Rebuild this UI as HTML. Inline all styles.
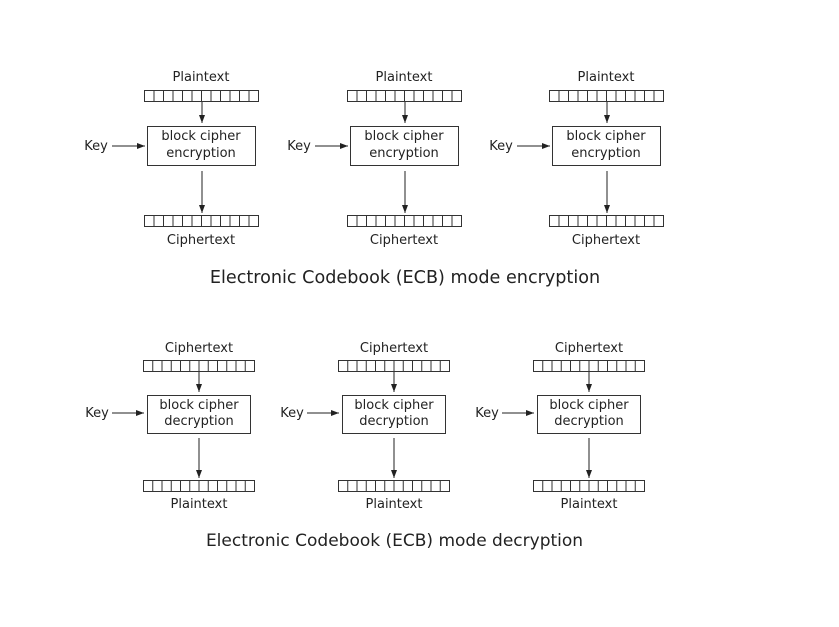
<!DOCTYPE html>
<html><head><meta charset="utf-8"><style>
html,body{margin:0;padding:0;background:#fff;}
svg{display:block;}
text{font-family:"DejaVu Sans","Liberation Sans",sans-serif;fill:#222;}
</style></head><body>
<svg width="839" height="627" viewBox="0 0 839 627" xmlns="http://www.w3.org/2000/svg">
<defs>
<marker id="ah" markerWidth="8" markerHeight="6" refX="8" refY="3" orient="auto" markerUnits="userSpaceOnUse">
<path d="M0,0 L8,3 L0,6 Z" fill="#222"/>
</marker>
<g id="barE" stroke="#333" stroke-width="1" fill="none">
<rect x="144.5" y="90.5" width="114" height="11"/>
<path d="M154,91V101M163.5,91V101M173,91V101M182.5,91V101M192,91V101M201.5,91V101M211,91V101M220.5,91V101M230,91V101M239.5,91V101M249,91V101"/>
</g>
<g id="unitE">
<use href="#barE"/>
<use href="#barE" transform="translate(0,125)"/>
<rect x="147.5" y="126.5" width="108" height="39" fill="none" stroke="#333"/>
<line x1="202" y1="102" x2="202" y2="123" stroke="#222" marker-end="url(#ah)"/>
<line x1="202" y1="171" x2="202" y2="213" stroke="#222" marker-end="url(#ah)"/>
<line x1="112" y1="146" x2="145" y2="146" stroke="#222" marker-end="url(#ah)"/>
<text x="96" y="150" font-size="13" text-anchor="middle">Key</text>
<text x="201" y="140" font-size="13" text-anchor="middle">block cipher</text>
<text x="201" y="157" font-size="13" text-anchor="middle">encryption</text>
<text x="201" y="81" font-size="13" text-anchor="middle">Plaintext</text>
<text x="201" y="244" font-size="13" text-anchor="middle">Ciphertext</text>
</g>
<g id="barD" stroke="#333" stroke-width="1" fill="none">
<rect x="143.5" y="360.5" width="111" height="11"/>
<path d="M152.75,361V371M162,361V371M171.25,361V371M180.5,361V371M189.75,361V371M199,361V371M208.25,361V371M217.5,361V371M226.75,361V371M236,361V371M245.25,361V371"/>
</g>
<g id="unitD">
<use href="#barD"/>
<use href="#barD" transform="translate(0,120)"/>
<rect x="147.5" y="395.5" width="103" height="38" fill="none" stroke="#333"/>
<line x1="199" y1="372" x2="199" y2="392" stroke="#222" marker-end="url(#ah)"/>
<line x1="199" y1="438" x2="199" y2="478" stroke="#222" marker-end="url(#ah)"/>
<line x1="112" y1="413" x2="144" y2="413" stroke="#222" marker-end="url(#ah)"/>
<text x="97" y="417" font-size="13" text-anchor="middle">Key</text>
<text x="199" y="409" font-size="13" text-anchor="middle">block cipher</text>
<text x="199" y="425" font-size="13" text-anchor="middle">decryption</text>
<text x="199" y="352" font-size="13" text-anchor="middle">Ciphertext</text>
<text x="199" y="508" font-size="13" text-anchor="middle">Plaintext</text>
</g>
</defs>
<use href="#unitE"/>
<use href="#unitE" transform="translate(203,0)"/>
<use href="#unitE" transform="translate(405,0)"/>
<text x="405" y="283" font-size="17.6" text-anchor="middle">Electronic Codebook (ECB) mode encryption</text>
<use href="#unitD"/>
<use href="#unitD" transform="translate(195,0)"/>
<use href="#unitD" transform="translate(390,0)"/>
<text x="394.5" y="546" font-size="17" text-anchor="middle">Electronic Codebook (ECB) mode decryption</text>
</svg>
</body></html>
